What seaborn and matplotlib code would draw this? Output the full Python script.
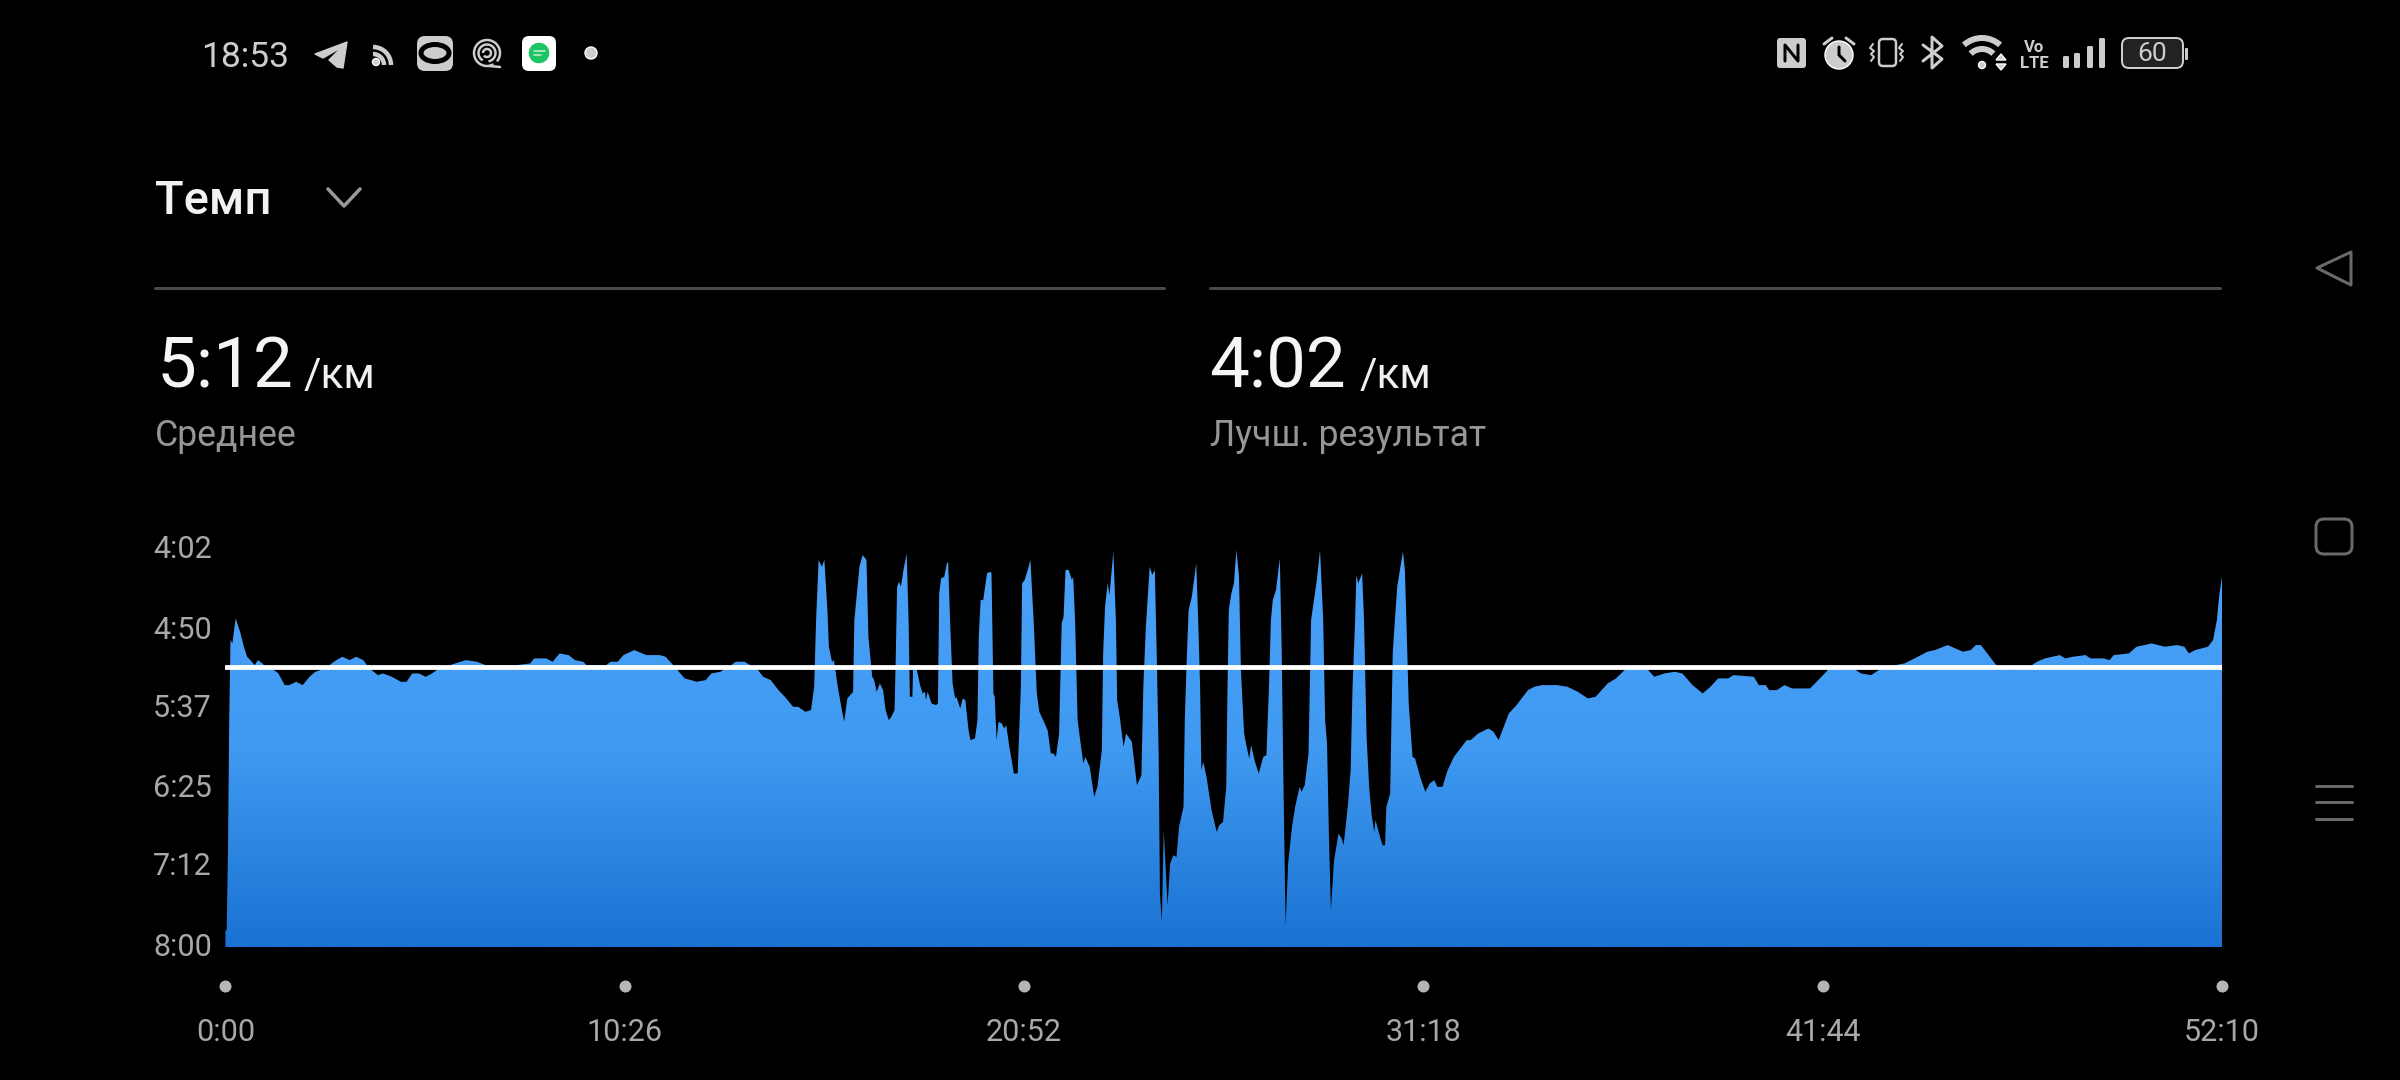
import numpy as np
import pandas as pd
import seaborn as sns
import matplotlib.pyplot as plt
from matplotlib.colors import LinearSegmentedColormap
from matplotlib.patches import Arc, Circle, Ellipse, FancyBboxPatch, Polygon
from matplotlib.transforms import ScaledTranslation

#data: seconds since start, pace in seconds per km
time_s = [0,2,4,6,8,11,16,23,29,34,39,46,51,58,65,76,83,93,100,111,121,132,141,149,160,170,183,195,205,216,226,239,247,261,275,284,293,303,314,324,335,352,377,394,408,436,457,478,484,503,513,524,538,548,561,566,597,604,615,624,641,660,681,690,702,720,730,738,753,762,776,793,800,814,835,843,855,867,877,890,898,909,918,
          923,926,930,935,939,944,946,951,954,960,965,970,975,984,986,989,994,999,1005,1008,1014,1017,1021,1026,1031,1035,1040,1044,1049,
          1051,1053,1056,1059,1063,1068,1071,1073,1077,1078,1084,1089,1093,1097,1098,1101,1107,1114,1117,1119,1122,1127,1131,1133,1136,1140,1144,1146,1152,1156,1160,1165,1168,1175,1179,1181,1184,1188,1194,1199,1201,1204,1206,1209,1212,1217,1221,1224,1229,1236,1242,1247,1249,1253,1257,1262,1267,1272,1276,1282,1289,1294,1298,1302,1307,1311,1314,1317,1322,1327,1329,1332,1336,1340,1345,1348,1355,
          1362,1367,1374,1376,1379,1383,1386,1392,1396,1398,1402,1408,1412,1421,1429,1436,1439,1443,1449,1453,1457,1460,1463,1465,1468,1471,1477,1481,1486,1491,1495,1502,1504,1507,1510,1515,1522,1525,1528,1530,1533,1538,1546,1554,1558,1564,1569,1571,1573,1577,1581,1585,1589,1592,1597,1601,1605,1608,1614,1620,1627,1632,1636,1639,1642,1647,1653,1656,1658,1662,1666,1672,1677,1684,1687,1692,1698,1700,1702,1705,1711,1716,1721,1724,1727,1730,1733,1738,1745,1750,1753,1760,1764,1767,1771,1773,1776,1782,1785,1789,1793,1797,1801,1803,1810,1814,1818,1820,1826,1828,1830,1832,1837,1846,1849,1852,1855,1861,1865,1873,1881,
          1888,1895,1900,1908,1916,1926,1936,1946,1952,1964,1980,1988,1996,2012,2024,2042,2052,2064,2079,2088,2104,2120,2136,2148,2167,2180,2196,2208,2228,2240,2256,2272,2284,2300,2316,2328,2340,2356,2364,2396,2404,2415,2420,2432,2444,2456,2484,2492,2512,2528,2552,2564,2580,2592,2604,2632,2648,2668,2680,2700,2724,2736,2744,2752,2764,2776,2800,2824,2840,2852,2876,2884,2896,2916,2924,2944,2954,2960,2984,2996,3020,3040,3060,3071,3078,3088,3108,3116,3122,3126,3130]
pace_s = [470,470,424,344,296,298,283,291,300,306,308,311,308,310,313,314,316,323,323,321,323,318,315,314,312,309,306,308,306,308,313,317,316,318,321,321,316,316,318,316,313,311,308,309,311,311,311,310,307,307,309,304,305,308,309,311,311,309,309,305,302,305,305,306,311,319,320,321,320,316,315,311,309,309,314,318,320,326,330,336,336,339,338,
          324,284,248,252,248,280,300,309,308,324,335,345,331,327,284,272,252,245,248,294,318,320,327,322,326,338,344,342,338,
          304,264,261,264,254,244,284,330,330,313,314,323,328,327,332,327,334,335,334,268,259,258,250,249,284,322,331,330,337,331,332,350,356,355,344,294,272,272,256,255,256,328,330,356,345,346,349,347,360,376,376,324,262,260,255,248,284,328,339,344,350,364,364,366,352,286,282,254,254,260,258,284,344,356,370,366,372,
          390,384,362,304,276,262,269,243,284,332,342,360,352,357,383,377,324,288,252,257,254,304,364,448,465,410,455,430,425,426,408,396,344,308,278,270,250,284,324,374,369,378,398,411,407,405,384,324,278,268,262,242,258,314,352,360,367,359,369,376,366,365,324,284,272,266,247,304,364,467,430,408,396,384,387,383,364,324,284,276,260,242,284,344,358,414,458,428,412,415,419,394,374,324,284,257,262,256,284,354,384,401,411,404,414,419,419,396,388,344,304,292,264,243,254,292,334,366,367,378,387,
          382,380,384,384,374,366,361,356,356,352,349,351,356,340,335,326,324,323,323,323,324,327,331,330,322,319,313,311,313,318,316,315,316,323,328,324,319,319,317,318,323,323,326,326,323,325,325,322,314,311,313,316,317,314,312,310,307,303,302,299,303,302,299,299,305,311,314,313,309,307,305,307,306,305,307,307,308,305,304,300,298,300,299,300,304,302,300,296,284,268,258]

avg_pace = 312
y_ticks = [242, 290, 337, 385, 432, 480]
y_labels = ["4:02", "4:50", "5:37", "6:25", "7:12", "8:00"]
x_ticks = [0, 626, 1252, 1878, 2504, 3130]
x_labels = ["0:00", "10:26", "20:52", "31:18", "41:44", "52:10"]

df = pd.DataFrame({"time": time_s, "pace": pace_s})
avg_df = pd.DataFrame({"time": [time_s[0], time_s[-1]], "pace": [avg_pace, avg_pace]})
dots_df = pd.DataFrame({"time": x_ticks, "pos": [-0.098] * len(x_ticks)})

sns.set_theme(style="dark", rc={"axes.grid": False})
plt.rcParams["font.family"] = ["Roboto", "DejaVu Sans"]

W, H = 2400, 1080
fig = plt.figure(figsize=(W / 100, H / 100), dpi=100, facecolor="black")
px = 0.72  #points per pixel

#main chart
ax = fig.add_axes([225.4 / W, (H - 947) / H, 1996.6 / W, 397 / H], facecolor="black")
for s in ax.spines.values():
    s.set_visible(False)

area = ax.fill_between(df["time"], df["pace"], 480, color="none", lw=0)
grad = np.linspace(0, 1, 256).reshape(-1, 1)
cmap = LinearSegmentedColormap.from_list("pace", ["#4AA0F8", "#409AF1", "#1A72D2"])
im = ax.imshow(grad, extent=[0, 3130, 480, 242], aspect="auto", cmap=cmap, zorder=2)
im.set_clip_path(area.get_paths()[0], transform=ax.transData)

sns.lineplot(data=avg_df, x="time", y="pace", color="white", lw=4.8 * px, ax=ax, zorder=3)
sns.scatterplot(data=dots_df, x="time", y="pos", color="#B5B5B5", s=75, linewidth=0, ax=ax,
                transform=ax.get_xaxis_transform(), clip_on=False)

ax.set_xlim(0, 3130)
ax.set_ylim(480, 242)
ax.set_xlabel("")
ax.set_ylabel("")
ax.set_xticks(x_ticks, x_labels)
ax.set_yticks(y_ticks, y_labels)
ax.tick_params(axis="x", length=0, pad=51, labelsize=22, labelcolor="#A8A8A8")
ax.tick_params(axis="y", length=0, pad=9.8, labelsize=22, labelcolor="#A8A8A8")
for lbl in ax.get_yticklabels():
    lbl.set_transform(lbl.get_transform() + ScaledTranslation(0, 3 / 100, fig.dpi_scale_trans))

#everything around the chart, in pixel coordinates
ov = fig.add_axes([0, 0, 1, 1], facecolor="none")
ov.set_xlim(0, W)
ov.set_ylim(H, 0)
ov.axis("off")

grey = "#CDCDCD"


def rbox(x0, y0, x1, y1, r, fc="none", ec="none", lw=0):
    ov.add_patch(FancyBboxPatch((x0 + r, y0 + r), x1 - x0 - 2 * r, y1 - y0 - 2 * r,
                                boxstyle=f"round,pad={r}", fc=fc, ec=ec, lw=lw * px))


def line(xs, ys, color=grey, lw=3):
    ov.plot(xs, ys, color=color, lw=lw * px, solid_capstyle="round", solid_joinstyle="round")


def arc(cx, cy, r, t0, t1, color=grey, lw=4):
    #the y axis is flipped here, so angles run clockwise from the right
    ov.add_patch(Arc((cx, cy), 2 * r, 2 * r, theta1=t0, theta2=t1, color=color, lw=lw * px))


#header
ov.text(155, 214, "Темп", color="#F2F2F2", fontsize=34, fontweight="medium")
line([328, 344, 360], [189, 206, 189], color="#9A9A9A", lw=3.5)
ov.plot([155, 1164], [288, 288], color="#4A4A4A", lw=3 * px)
ov.plot([1210, 2220], [288, 288], color="#4A4A4A", lw=3 * px)

ov.text(157, 388, "5:12", color="#F5F5F5", fontsize=51)
ov.text(304, 388, "/км", color="#F0F0F0", fontsize=30.5)
ov.text(155, 446, "Среднее", color="#969696", fontsize=25.7)
ov.text(1209, 388, "4:02", color="#F5F5F5", fontsize=51)
ov.text(1360, 388, "/км", color="#F0F0F0", fontsize=30.5)
ov.text(1210, 446, "Лучш. результат", color="#969696", fontsize=25.7)

#status bar, left
ov.text(201, 67, "18:53", color=grey, fontsize=25.5)
ov.add_patch(Polygon([(315, 54), (347, 42), (343, 68), (337, 67), (329, 60), (342, 47), (323, 58)],
                     fc=grey, ec=grey, lw=1, joinstyle="round"))
ov.add_patch(Circle((376, 62), 3.5, fc=grey))
arc(373, 65, 11, 270, 360, lw=4.5)
arc(373, 65, 18, 270, 360, lw=4.5)
rbox(417, 36, 453, 71, 8, fc=grey)
ov.add_patch(Ellipse((435, 53), 28, 17, fc=grey, ec="black", lw=5 * px))
arc(487, 53, 13, 60, 400, lw=2.5)
arc(487, 53, 8.5, 120, 440, lw=2.5)
arc(487, 53, 4, 180, 500, lw=2.5)
line([489, 500], [66, 67], lw=2.5)
rbox(522, 36, 556, 71, 7, fc="white")
ov.add_patch(Circle((539, 53), 11, fc="#1CC466"))
line([534, 545], [51, 51], color="#C9F2DA", lw=1.5)
line([534, 541], [55, 55], color="#C9F2DA", lw=1.5)
ov.add_patch(Circle((591, 53), 6, fc=grey))

#status bar, right
rbox(1777, 38, 1806, 68, 3, fc=grey)
line([1785, 1785, 1798, 1798], [61, 45, 61, 45], color="black", lw=3)
ov.add_patch(Circle((1839, 55), 14, fc=grey))
line([1839, 1839, 1845], [47, 55, 61], color="black", lw=3)
line([1824, 1832], [44, 38], lw=3)
line([1846, 1854], [38, 44], lw=3)
rbox(1879, 39, 1896, 66, 4, ec=grey, lw=2.5)
line([1873, 1870, 1874, 1871, 1874, 1871], [44, 48, 51, 54, 57, 61], lw=2)
line([1902, 1899, 1903, 1900, 1903, 1900], [44, 48, 51, 54, 57, 61], lw=2)
line([1923, 1942, 1932, 1932, 1942, 1923], [45, 59, 68, 37, 46, 61], lw=3)
arc(1982, 65, 27, 228, 312, lw=6)
arc(1982, 65, 16, 225, 315, lw=6)
ov.add_patch(Circle((1982, 65), 3.5, fc=grey))
ov.add_patch(Polygon([(1996, 60), (2006, 60), (2001, 54)], fc=grey))
ov.add_patch(Polygon([(1996, 64), (2006, 64), (2001, 70)], fc=grey))
ov.text(2034, 52, "Vo", color=grey, fontsize=12, fontweight="bold", ha="center")
ov.text(2034, 68, "LTE", color=grey, fontsize=12, fontweight="bold", ha="center")
for x0, y0 in zip([2063, 2074, 2087, 2099], [56, 53, 46, 38]):
    rbox(x0, y0, x0 + 6, 68, 1.5, fc=grey)
rbox(2122, 38, 2183, 68, 7, fc="#222222", ec=grey, lw=2)
ov.text(2152, 61, "60", color=grey, fontsize=19, ha="center")
rbox(2185, 48, 2188, 60, 1, fc=grey)

#navigation bar on the right
nav = "#6A6A6A"
ov.add_patch(Polygon([(2317, 268), (2351, 252), (2351, 285)], fc="none", ec=nav, lw=3 * px, joinstyle="round"))
rbox(2316, 519, 2352, 554, 8, ec=nav, lw=3)
for y in [786, 802, 819]:
    ov.plot([2316, 2352], [y, y], color=nav, lw=3 * px)

fig.savefig("out.png", dpi=100, facecolor="black")
